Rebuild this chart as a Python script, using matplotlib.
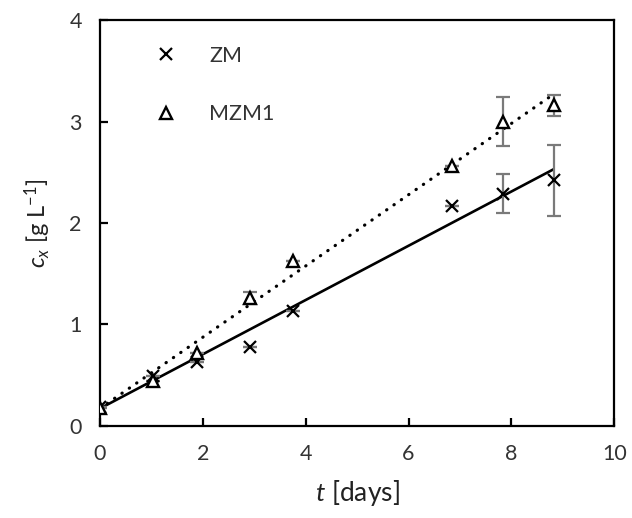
import matplotlib
matplotlib.use("Agg")
import matplotlib.pyplot as plt

# measured culture data (days, g/L)
t_zm = [0.0, 1.04, 1.88, 2.92, 3.76, 6.84, 7.83, 8.82]
cx_zm = [0.19, 0.49, 0.63, 0.78, 1.13, 2.17, 2.29, 2.42]
err_zm = [0.0, 0.0, 0.0, 0.0, 0.0, 0.0, 0.19, 0.35]

t_mzm1 = [0.0, 1.04, 1.88, 2.92, 3.76, 6.84, 7.83, 8.82]
cx_mzm1 = [0.18, 0.44, 0.72, 1.26, 1.63, 2.56, 3.00, 3.16]
err_mzm1 = [0.0, 0.0, 0.0, 0.06, 0.0, 0.0, 0.24, 0.10]

# linear fit lines (endpoints)
fit_t = [0.0, 8.82]
fit_zm = [0.17, 2.53]
fit_mzm1 = [0.17, 3.27]

plt.rcParams["font.family"] = ["Lato", "DejaVu Sans"]
plt.rcParams["mathtext.fontset"] = "custom"
plt.rcParams["mathtext.rm"] = "Lato"
plt.rcParams["mathtext.it"] = "Lato:italic"

fig = plt.figure(figsize=(6.32, 5.18), dpi=100)
ax = fig.add_axes([0.158, 0.178, 0.814, 0.783])

ax.plot(fit_t, fit_zm, color="black", linewidth=1.9, solid_capstyle="butt", zorder=2)
ax.plot(fit_t, fit_mzm1, color="black", linewidth=2.3, linestyle=(0, (0.1, 2.7)),
        dash_capstyle="round", zorder=2)

ax.errorbar(t_zm, cx_zm, yerr=err_zm, fmt="none", ecolor="#7a7a7a", elinewidth=1.6,
            capsize=5, capthick=1.6, zorder=3)
ax.errorbar(t_mzm1, cx_mzm1, yerr=err_mzm1, fmt="none", ecolor="#7a7a7a", elinewidth=1.6,
            capsize=5, capthick=1.6, zorder=3)

ax.plot(t_zm, cx_zm, linestyle="none", marker="x", markersize=9, markeredgewidth=1.6,
        color="black", label="ZM", zorder=4)
ax.plot(t_mzm1, cx_mzm1, linestyle="none", marker="^", markersize=9, markeredgewidth=1.7,
        markerfacecolor="white", markeredgecolor="black", label="MZM1", zorder=4)

ax.set_xlim(0, 10)
ax.set_ylim(0, 4)
ax.set_xticks([0, 2, 4, 6, 8, 10])
ax.set_yticks([0, 1, 2, 3, 4])

for side in ["left", "right", "top", "bottom"]:
    ax.spines[side].set_linewidth(1.6)
ax.tick_params(direction="in", length=6, width=1.6, labelsize=15.5, pad=13,
               colors="black", labelcolor="#333333")

ax.set_xlabel("$t$ [days]", fontsize=19, color="#222222", labelpad=10)
ax.set_ylabel("$c_x$ [g L$^{-1}$]", fontsize=17, color="#222222", labelpad=12)

ax.legend(loc="upper left", bbox_to_anchor=(0.07, 0.985), frameon=False, fontsize=15.5,
          handlelength=1.0, handletextpad=1.5, labelspacing=1.8, labelcolor="#333333")

fig.savefig("out.png", dpi=100)
